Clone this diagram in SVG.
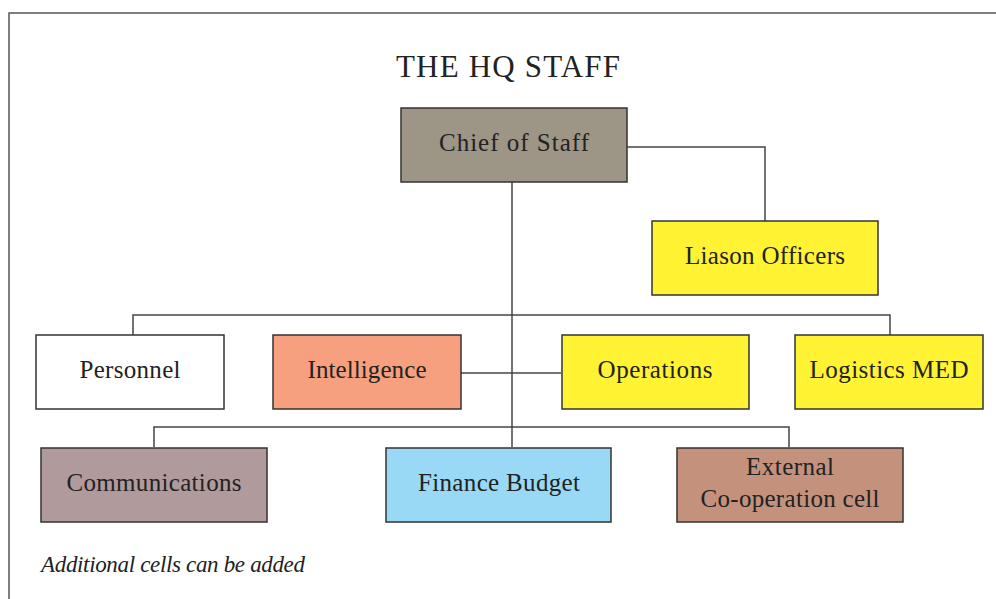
<svg xmlns="http://www.w3.org/2000/svg" width="996" height="599" viewBox="0 0 996 599">
<style>
.frame{fill:none;stroke:#555;stroke-width:1.5}
.box{stroke:#333;stroke-width:1.5}
.conn{fill:none;stroke:#444;stroke-width:1.5}
text{font-family:"Liberation Serif","Times New Roman",serif;fill:#222;font-size:25px;text-anchor:middle}
.title{font-size:31px}
.note{font-style:italic;text-anchor:start;font-size:23px}
</style>
<rect width="996" height="599" fill="#fff"/>
<rect class="frame" x="9" y="13" width="1000" height="620"/>
<text class="title" x="508" y="77" textLength="224">THE HQ STAFF</text>
<g id="connectors">
<path class="conn" d="M627 147 H765 V221"/>
<path class="conn" d="M512 182 V447"/>
<path class="conn" d="M133 335 V315 H890 V335"/>
<path class="conn" d="M461 373 H561"/>
<path class="conn" d="M154 447 V427 H789 V447"/>
</g>
<g id="chief"><rect class="box" x="401" y="108" width="226" height="74" fill="#9d9585"/><text x="514" y="151" textLength="150">Chief of Staff</text></g>
<g id="liason"><rect class="box" x="652" y="221" width="226" height="74" fill="#fff334"/><text x="765" y="264" textLength="160">Liason Officers</text></g>
<g id="personnel"><rect class="box" x="36" y="335" width="188" height="74" fill="#fff"/><text x="130" y="378" textLength="101">Personnel</text></g>
<g id="intelligence"><rect class="box" x="273" y="335" width="188" height="74" fill="#f6a07f"/><text x="367" y="378" textLength="119">Intelligence</text></g>
<g id="operations"><rect class="box" x="562" y="335" width="187" height="74" fill="#fff334"/><text x="655" y="378" textLength="115">Operations</text></g>
<g id="logistics"><rect class="box" x="795" y="335" width="188" height="74" fill="#fff334"/><text x="889" y="378" textLength="159">Logistics MED</text></g>
<g id="communications"><rect class="box" x="41" y="448" width="226" height="74" fill="#b09a9b"/><text x="154" y="491" textLength="175">Communications</text></g>
<g id="finance"><rect class="box" x="386" y="448" width="225" height="74" fill="#99d9f5"/><text x="499" y="491" textLength="162">Finance Budget</text></g>
<g id="external"><rect class="box" x="677" y="448" width="226" height="74" fill="#c4927c"/><text x="790" y="475" textLength="88">External</text><text x="790" y="507" textLength="179">Co-operation cell</text></g>
<text class="note" x="41" y="572" textLength="264">Additional cells can be added</text>
</svg>
